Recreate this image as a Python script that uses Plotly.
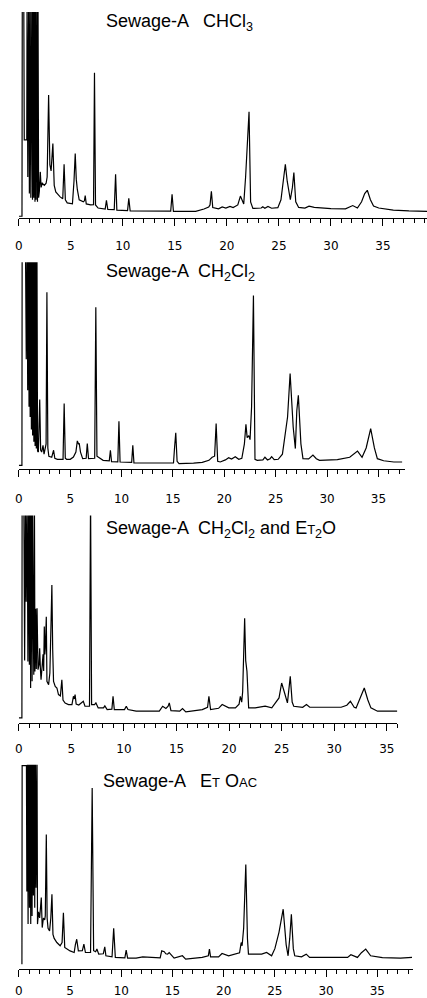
import plotly.graph_objects as go

# ---------------- data (retention time, min ; relative detector response, %) -------------
P1_X = [0.00, 0.30, 0.33, 0.47, 0.52, 0.76, 0.79, 0.86, 0.95, 1.01, 1.09, 1.15, 1.25, 1.31, 1.37, 1.43,
        1.50, 1.55, 1.60, 1.66, 1.74, 1.79, 1.84, 1.90, 1.97, 2.06, 2.14, 2.25, 2.45, 2.62, 2.72, 2.86,
        2.98, 3.10, 3.27, 3.40, 3.55, 3.97, 4.22, 4.35, 4.47, 4.65, 5.15, 5.30, 5.42, 5.52, 5.62, 5.80,
        6.20, 6.30, 6.38, 6.48, 6.90, 7.18, 7.27, 7.37, 7.62, 8.30, 8.42, 8.55, 9.17, 9.30, 9.42, 10.45,
        10.57, 10.70, 14.60, 14.73, 14.86, 17.00, 17.80, 18.25, 18.38, 18.51, 18.64, 19.20, 19.55, 19.90,
        20.30, 20.60, 21.05, 21.30, 21.45, 21.62, 21.80, 22.13, 22.28, 22.50, 23.30, 23.45, 23.65, 23.95,
        24.30, 24.90, 25.20, 25.45, 25.62, 25.80, 26.10, 26.30, 26.44, 26.62, 26.90, 27.50, 27.90, 28.40,
        30.00, 31.40, 32.10, 32.55, 32.95, 33.25, 33.50, 33.80, 34.10, 34.60, 36.00, 37.50, 39.30]
P1_Y = [1.0, 1.0, 110, 110, 38, 38, 110, 20, 110, 12, 110, 10, 110, 9, 110, 10,
        110, 8, 110, 9, 110, 8, 110, 10, 13, 22.5, 15, 17, 16, 17, 20, 59.7,
        26, 23, 36.2, 16, 12.8, 10.4, 9.5, 26.2, 9, 7.5, 7, 18, 31.4, 19, 14, 9,
        8, 8.5, 11, 7, 6.5, 6.6, 70.6, 6.5, 5, 4.5, 8.7, 4.3, 4.2, 21.4, 4, 3.8,
        9.7, 3.6, 3.5, 11.7, 3.4, 3.4, 4.5, 5.5, 6.5, 13.1, 5.2, 4.6, 5.5, 5.0,
        5.8, 5.2, 6.5, 10.8, 8.5, 7, 20, 51.6, 8, 4.8, 5.0, 5.6, 4.9, 5.8,
        4.9, 5.2, 9, 20, 26.2, 18, 9, 15, 22.2, 8, 5.3, 5.0, 5.9, 5.3,
        4.7, 4.6, 6.2, 5.0, 8.0, 12.0, 13.6, 9, 6, 5, 4, 3.6, 3.4]

P2_X = [0.00, 0.30, 0.32, 0.64, 0.72, 0.80, 0.86, 0.93, 0.99, 1.05, 1.10, 1.16, 1.22, 1.28, 1.34, 1.40,
        1.46, 1.52, 1.58, 1.64, 1.70, 1.76, 1.82, 1.90, 2.03, 2.12, 2.22, 2.35, 2.45, 2.55, 2.65, 2.73,
        2.82, 2.92, 3.20, 3.38, 3.50, 3.75, 4.30, 4.41, 4.52, 4.65, 5.00, 5.31, 5.55, 5.69, 5.80, 5.88,
        6.00, 6.21, 6.55, 6.66, 6.78, 7.38, 7.49, 7.60, 7.72, 8.20, 8.80, 8.91, 9.02, 9.63, 9.74, 9.85,
        10.98, 11.09, 11.20, 15.05, 15.15, 15.27, 15.40, 15.59, 17.00, 17.85, 18.50, 18.81, 19.05, 19.20,
        19.35, 19.60, 20.10, 20.42, 20.70, 21.06, 21.40, 21.70, 21.95, 22.10, 22.22, 22.38, 22.50, 22.65,
        22.83, 22.98, 23.20, 23.75, 23.95, 24.20, 24.45, 24.60, 24.85, 25.24, 25.65, 26.15, 26.40, 26.70,
        26.91, 27.05, 27.20, 27.45, 27.65, 28.20, 28.62, 28.95, 29.26, 31.00, 32.20, 32.60, 32.96, 33.40,
        33.80, 34.24, 34.60, 34.89, 35.50, 36.50, 37.30]
P2_Y = [1.6, 1.6, 110, 110, 53, 110, 38, 110, 30, 110, 25, 110, 19, 110, 16, 110,
        13, 110, 11, 110, 9.7, 110, 8.5, 8, 33.5, 9, 8, 11.3, 7, 9, 12, 85.5,
        10, 6, 5.5, 8.9, 5.0, 4.5, 4.5, 31.5, 5.0, 4.5, 4.5, 5.6, 8, 13.4, 12, 12.1,
        8, 4.8, 5, 12.1, 4.8, 5, 78.2, 6, 5.6, 4.0, 3.8, 8.9, 3.4, 3.3, 22.9, 3.2,
        3.0, 11.3, 2.8, 2.7, 10, 17.4, 3.5, 2.4, 2.6, 3.0, 4.0, 5.5, 6, 21.8,
        3.5, 3.2, 4.2, 5.3, 4.6, 5.7, 4.5, 5, 12, 21.5, 15, 16, 14, 30,
        83.9, 4.5, 4.0, 4.2, 5.5, 4.2, 4.8, 5.8, 4.3, 4.5, 7, 25, 46.0, 20,
        9.7, 28, 35.5, 12, 4.8, 4.7, 6.5, 4.8, 4.0, 4.3, 5.5, 7, 8.5, 5.5,
        10, 19.4, 10, 4.8, 3.8, 3.2, 3.2]

P3_X = [0.00, 0.29, 0.31, 0.47, 0.55, 0.63, 0.70, 0.79, 0.86, 0.94, 1.00, 1.06, 1.12, 1.18, 1.26, 1.30,
        1.35, 1.42, 1.48, 1.53, 1.60, 1.66, 1.73, 1.82, 1.92, 1.98, 2.05, 2.11, 2.20, 2.30, 2.36, 2.42,
        2.47, 2.52, 2.61, 2.67, 2.83, 2.95, 3.07, 3.14, 3.22, 3.30, 3.46, 3.62, 3.77, 3.95, 4.09, 4.20,
        4.40, 4.72, 5.05, 5.19, 5.27, 5.35, 5.45, 5.70, 6.13, 6.29, 6.72, 6.82, 6.92, 7.20, 7.33, 7.45,
        7.55, 8.05, 8.18, 8.40, 8.85, 8.96, 9.08, 10.05, 10.22, 10.38, 11.16, 13.36, 13.68, 13.99, 14.20,
        14.31, 14.47, 15.30, 15.57, 15.88, 17.45, 17.95, 18.08, 18.24, 19.00, 19.34, 19.97, 20.60, 20.95,
        21.07, 21.20, 21.29, 21.40, 21.48, 21.58, 21.70, 21.86, 22.48, 23.43, 24.06, 24.75, 25.00, 25.30,
        25.55, 25.82, 26.00, 26.15, 27.00, 27.36, 27.67, 30.66, 31.20, 31.54, 31.90, 32.08, 32.50, 32.86,
        33.20, 33.49, 34.12, 36.01]
P3_Y = [2.4, 2.4, 110, 110, 30, 110, 58.4, 110, 29.6, 110, 28, 110, 16.8, 110, 20, 110,
        58, 23.2, 110, 24.8, 55, 26, 55.2, 25.6, 28, 36.0, 26, 20.8, 26.4, 33, 25, 46.4,
        33, 36, 51.2, 20, 18.4, 24, 50, 66.4, 35, 20, 17.6, 16.8, 13.6, 13, 20.8, 11,
        9.5, 8.8, 8.8, 12.8, 11.5, 13.6, 9, 8.6, 10.4, 8.0, 8.0, 110, 8.8, 8.8, 9.6, 8.0,
        7.2, 7.2, 8.2, 6.4, 6.6, 12.8, 6.4, 6.4, 8.0, 6.4, 5.6, 5.6, 8.0, 6.9, 8,
        9.6, 5.9, 5.6, 6.9, 5.3, 6.4, 7.5, 12.8, 6.4, 7.0, 8.8, 7.2, 7.2, 9,
        12.8, 10, 15, 40, 50.4, 30, 24.8, 7.2, 7.2, 8.0, 7.2, 12, 19.2, 14,
        9.6, 22.4, 10, 8.0, 7.5, 8.8, 7.5, 7.5, 8.5, 10.4, 7.5, 7.2, 12, 16.8,
        11, 7.2, 5.6, 5.6]

P4_X = [0.30, 0.32, 0.74, 0.78, 0.84, 0.90, 0.97, 1.04, 1.10, 1.16, 1.22, 1.29, 1.35, 1.42, 1.48, 1.55,
        1.61, 1.68, 1.77, 1.82, 1.92, 2.03, 2.19, 2.28, 2.40, 2.52, 2.58, 2.63, 2.68, 2.76, 2.85, 3.00,
        3.12, 3.23, 3.33, 3.45, 3.71, 4.03, 4.22, 4.35, 4.48, 5.00, 5.40, 5.52, 5.65, 5.81, 6.20, 6.35,
        6.50, 7.00, 7.16, 7.30, 7.50, 7.62, 7.80, 8.25, 8.39, 8.50, 9.10, 9.26, 9.42, 10.35, 10.48, 10.62,
        11.45, 12.10, 12.90, 13.80, 13.95, 14.20, 14.35, 14.52, 14.68, 14.84, 15.16, 15.97, 16.29, 17.90,
        18.50, 18.61, 18.72, 19.50, 19.84, 20.48, 21.13, 21.55, 21.71, 21.80, 21.95, 22.16, 22.32, 22.42,
        23.71, 24.19, 24.68, 25.00, 25.40, 25.81, 26.10, 26.29, 26.45, 26.61, 26.80, 26.94, 27.60, 28.06,
        28.39, 32.10, 32.42, 33.06, 33.45, 33.87, 34.35, 35.50, 37.26, 38.39]
P4_Y = [2.4, 99.5, 99.5, 38, 110, 22, 110, 30, 110, 22, 110, 26, 110, 36, 110, 30,
        110, 39.8, 110, 22, 28, 25, 35, 20.3, 25, 24, 26, 40, 65.9, 25, 20, 18.7,
        25, 36.6, 17, 15, 13.0, 11.4, 13, 27.6, 10.6, 8.9, 8.1, 12, 14.6, 8.9, 9, 12.2,
        8.1, 8.1, 88.6, 9, 8.5, 9.8, 7.3, 7.5, 10.9, 6.5, 6.0, 20.0, 5.7, 5.5, 9.3, 5.4,
        5.4, 6.0, 5.7, 5.5, 8.9, 8.5, 7.5, 7.3, 8.1, 7.0, 5.4, 6.5, 4.9, 5.7,
        6.5, 9.8, 6.0, 6.0, 7.6, 6.5, 7.3, 8, 13.0, 11.4, 20, 51.2, 15, 7.3,
        7.3, 8.1, 6.5, 10, 18, 29.3, 12, 6.5, 15, 26.8, 10, 6.5, 6, 7.3,
        5.7, 5.7, 7.0, 5.7, 8, 9.8, 6.5, 5.6, 5.4, 5.7]

TICK_VALS = [0, 5, 10, 15, 20, 25, 30, 35]
TICK_TEXT = ["0", "5", "10", "15", "20", "25", "30", "35"]

TITLES = [
    "Sewage-A   CHCl<sub>3</sub>",
    "Sewage-A  CH<sub>2</sub>Cl<sub>2</sub>",
    "Sewage-A  CH<sub>2</sub>Cl<sub>2</sub> and E<span style='font-size:13px'>T</span><sub>2</sub>O",
    "Sewage-A   E<span style='font-size:13px'>T</span> O<span style='font-size:13px'>AC</span>",
]

# ---------------- layout geometry (pixels in a 427 x 998 page) ----------------
W, H = 427, 998
panels = [
    dict(x=P1_X, y=P1_Y, bot=219, top=12, right=427, xmax=39.24, stand=9, tx=101, ty=23),
    dict(x=P2_X, y=P2_Y, bot=470, top=263, right=405, xmax=37.6, stand=12, tx=101, ty=273),
    dict(x=P3_X, y=P3_Y, bot=725, top=517, right=397, xmax=36.0, stand=8, tx=101, ty=531),
    dict(x=P4_X, y=P4_Y, bot=972, top=767, right=413, xmax=38.5, stand=3, tx=98, ty=783),
]

fig = go.Figure()
layout = dict(width=W, height=H, margin=dict(l=0, r=0, t=0, b=0),
              paper_bgcolor="white", plot_bgcolor="white", showlegend=False,
              font=dict(family="Liberation Sans, Arial, sans-serif", color="black"))
annotations = []
for i, p in enumerate(panels, start=1):
    sx = "" if i == 1 else str(i)
    fig.add_trace(go.Scatter(x=p["x"], y=p["y"], mode="lines",
                             line=dict(color="black", width=1.2),
                             xaxis="x" + sx, yaxis="y" + sx, hoverinfo="skip"))
    layout["xaxis" + sx] = dict(
        domain=[15 / W, p["right"] / W], range=[0, p["xmax"]], anchor="y" + sx,
        showline=True, linecolor="black", linewidth=1.3, showgrid=False, zeroline=False,
        ticks="outside", tickvals=TICK_VALS, ticktext=TICK_TEXT, ticklen=7, tickwidth=1.2,
        tickcolor="black", ticklabelstandoff=p["stand"],
        tickfont=dict(size=12, family="DejaVu Sans, sans-serif", color="black"),
        minor=dict(dtick=1, tick0=0, ticks="outside", ticklen=4, tickwidth=1, tickcolor="black",
                   showgrid=False),
        fixedrange=True)
    layout["yaxis" + sx] = dict(
        domain=[1 - p["bot"] / H, 1 - p["top"] / H], range=[0, 100], anchor="x" + sx,
        visible=False, fixedrange=True)
    annotations.append(dict(text=TITLES[i - 1], xref="paper", yref="paper",
                            x=p["tx"] / W, y=1 - p["ty"] / H, xanchor="left", yanchor="middle",
                            showarrow=False, font=dict(size=18, color="black")))
layout["annotations"] = annotations
fig.update_layout(**layout)
fig.write_html("out.html", config={"displayModeBar": False},
               post_script="document.body.style.margin='0';document.body.style.padding='0';"
                           "document.body.style.overflow='hidden';")
